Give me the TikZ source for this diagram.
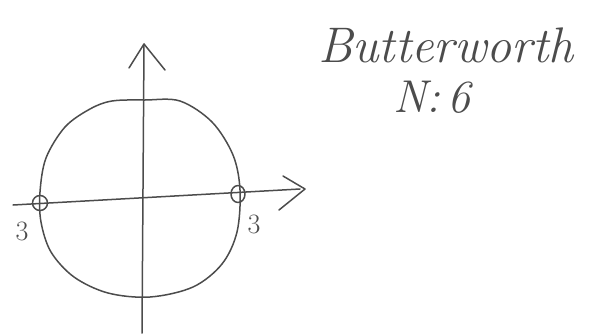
\documentclass[tikz,border=0pt]{standalone}
\usepackage{fontspec}
\setmainfont{Latin Modern Roman}
\usetikzlibrary{shapes.geometric}
\begin{document}
\begin{tikzpicture}[x=1pt,y=-1pt,
  pencil/.style={draw=black!70, line width=1.5pt, line cap=round, line join=round},
  hand/.style={text=black!70}]
\useasboundingbox (0,0) rectangle (597,335);
% axes
\coordinate (vtop) at (144,44);
\coordinate (vbot) at (142,333);
\coordinate (hleft) at (13,205);
\coordinate (hright) at (300,189);
\draw[pencil] (vbot) -- (vtop);
\draw[pencil] (hleft) -- (hright);
% arrow heads
\draw[pencil] (129,68) -- (vtop) -- (165,70);
\draw[pencil] (283,176) -- (305,189) -- (279,210);
% circle (hand drawn)
\draw[pencil] plot[smooth cycle, tension=0.55] coordinates {
 (112,101) (145,100) (180,101) (212,122) (233,155) (240,190)
 (237,232) (222,264) (193,287) (150,297) (108,293) (74,277) (51,252) (41,222)
 (40,192) (46,158) (65,127) (90,109)};
% poles
\node[pencil, circle, minimum width=15pt, inner sep=0pt] (p1) at (40,203) {};
\node[pencil, ellipse, minimum width=14pt, minimum height=17pt, inner sep=0pt] (p2) at (238,194) {};
\node[hand, font=\fontsize{28}{30}\selectfont] (l1) at (22,231) {3};
\node[hand, font=\fontsize{28}{30}\selectfont] (l2) at (254,224) {3};
% title
\node[hand, font=\fontsize{50}{56}\selectfont\itshape] (t1) at (446,45) {Butterworth};
\node[hand, font=\fontsize{46}{50}\selectfont\itshape] (t2) at (432,97) {N:\,6};
\end{tikzpicture}
\end{document}
